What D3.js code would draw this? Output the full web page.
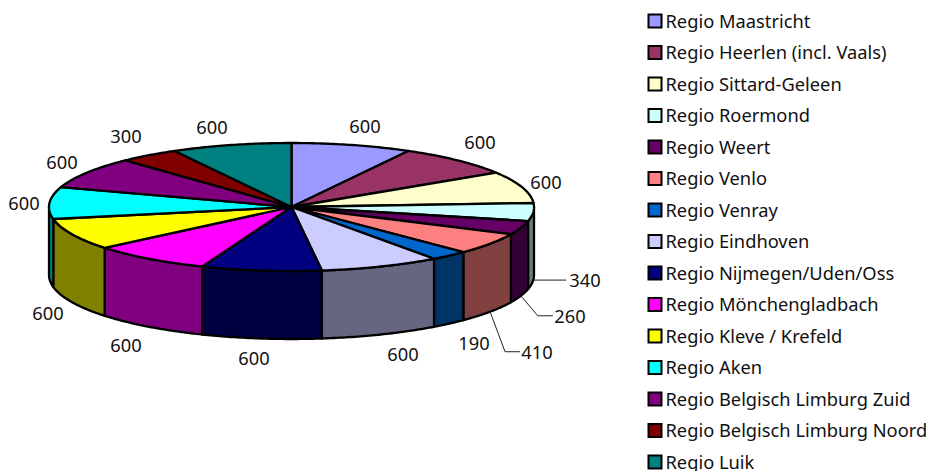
<!DOCTYPE html>
<html>
<head>
<meta charset="utf-8">
<script src="https://cdn.jsdelivr.net/npm/d3@7"></script>
<style>
  html, body { margin: 0; padding: 0; background: #fff; }
  svg { display: block; }
  text { font-family: "Noto Sans", "Open Sans", sans-serif; fill: #111; }
</style>
</head>
<body>
<svg id="chart" width="930" height="471"></svg>
<script>
// Regions and their values, clockwise from twelve o'clock
const regions = [
  "Regio Maastricht", "Regio Heerlen (incl. Vaals)", "Regio Sittard-Geleen",
  "Regio Roermond", "Regio Weert", "Regio Venlo", "Regio Venray",
  "Regio Eindhoven", "Regio Nijmegen/Uden/Oss", "Regio Mönchengladbach",
  "Regio Kleve / Krefeld", "Regio Aken", "Regio Belgisch Limburg Zuid",
  "Regio Belgisch Limburg Noord", "Regio Luik"
];
const values = [600, 600, 600, 340, 260, 410, 190, 600, 600, 600, 600, 600, 600, 300, 600];
const colors = [
  "#9999FF", "#993366", "#FFFFCC", "#CCFFFF", "#660066", "#FF8080", "#0066CC",
  "#CCCCFF", "#000080", "#FF00FF", "#FFFF00", "#00FFFF", "#800080", "#800000", "#008080"
];
// Label centres for the values outside the disc
const labelX = [365, 480, 546, 585, 570, 537, 474, 403, 254, 126, 48, 24, 62, 126, 212];
const labelY = [125, 141, 181, 279, 315, 351, 342, 353, 357, 344, 312, 202, 161, 135, 126];
// Slices whose labels need an elbow leader: horizontal run and drop
const leaders = { 3: [[33, 0]], 4: [[17, 20], [32, 20]], 5: [[15, 40], [30, 40]] };

const cx = 291.5, cy = 207, rx = 242.5, ry = 64, depth = 68;
const x = d3.scaleLinear().domain([-1, 1]).range([cx - rx, cx + rx]);
const y = d3.scaleLinear().domain([-1, 1]).range([cy - ry, cy + ry]);

const svg = d3.select("#chart");
const slices = d3.pie().sort(null)(values);

const px = a => x(Math.sin(a));
const py = a => y(-Math.cos(a));
const arcSamples = (a0, a1) => d3.range(0, 41).map(i => a0 + (a1 - a0) * i / 40);
const line = d3.line();

// Side wall: the part of each slice's rim on the near half of the ellipse
const sides = svg.append("g")
  .attr("stroke", "#000").attr("stroke-width", 2.3).attr("stroke-linejoin", "round");
slices.forEach((s, i) => {
  const a0 = Math.max(s.startAngle, Math.PI / 2);
  const a1 = Math.min(s.endAngle, Math.PI * 1.5);
  if (a1 <= a0) return;
  const rim = arcSamples(a0, a1);
  const pts = rim.map(a => [px(a), py(a)])
    .concat(rim.slice().reverse().map(a => [px(a), py(a) + depth]));
  const c = d3.rgb(colors[i]);
  sides.append("path")
    .attr("d", line(pts) + "Z")
    .attr("fill", d3.rgb(c.r * 0.5, c.g * 0.5, c.b * 0.5).formatHex());
});

// Top face
const tops = svg.append("g")
  .attr("stroke", "#000").attr("stroke-width", 2.3).attr("stroke-linejoin", "round");
slices.forEach((s, i) => {
  const pts = [[cx, cy]].concat(arcSamples(s.startAngle, s.endAngle).map(a => [px(a), py(a)]));
  tops.append("path").attr("d", line(pts) + "Z").attr("fill", colors[i]);
});

// Leader lines start at the foot of the rim, at the slice's middle angle
const lead = svg.append("g").attr("fill", "none").attr("stroke", "#222").attr("stroke-width", 1);
Object.entries(leaders).forEach(([k, steps]) => {
  const s = slices[+k];
  const m = (s.startAngle + s.endAngle) / 2;
  const p0 = [px(m), py(m) + depth];
  lead.append("path").attr("d", line([p0].concat(steps.map(d => [p0[0] + d[0], p0[1] + d[1]]))));
});

// Value labels
svg.append("g").selectAll("text").data(values).join("text")
  .attr("x", (d, i) => labelX[i])
  .attr("y", (d, i) => labelY[i])
  .attr("text-anchor", "middle")
  .attr("dominant-baseline", "central")
  .attr("font-size", 18.3)
  .text(d => d);

// Legend
const legendY = d3.scalePoint().domain(regions).range([21, 462]);
const legend = svg.append("g").selectAll("g").data(regions).join("g")
  .attr("transform", d => `translate(648,${legendY(d)})`);
legend.append("rect")
  .attr("x", 0.5).attr("y", -6.5).attr("width", 13).attr("height", 13)
  .attr("fill", (d, i) => colors[i])
  .attr("stroke", "#000").attr("stroke-width", 2);
legend.append("text")
  .attr("x", 17.5)
  .attr("y", -1)
  .attr("dominant-baseline", "central")
  .attr("font-size", 18.3)
  .text(d => d);
</script>
</body>
</html>
